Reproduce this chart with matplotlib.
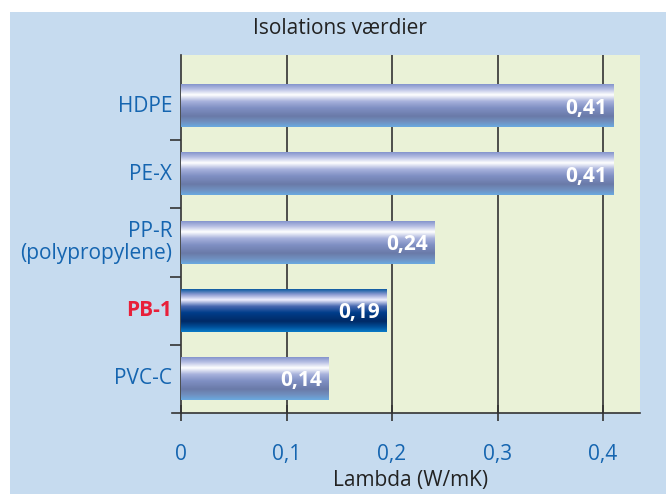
import numpy as np
import matplotlib
matplotlib.use("Agg")
import matplotlib.pyplot as plt
from matplotlib.colors import LinearSegmentedColormap
from matplotlib.patches import Rectangle

# data
materials = ["HDPE", "PE-X", "PP-R\n(polypropylene)", "PB-1", "PVC-C"]
lambda_vals = [0.41, 0.41, 0.24, 0.195, 0.14]   # bar lengths as drawn
value_labels = ["0,41", "0,41", "0,24", "0,19", "0,14"]
highlight = "PB-1"
xticks = [0, 0.1, 0.2, 0.3, 0.4]
xtick_labels = ["0", "0,1", "0,2", "0,3", "0,4"]

BG_BLUE = "#C6DBEF"
PLOT_GREEN = "#EAF2D7"
LABEL_BLUE = "#1565B0"
RED = "#E8203A"
FS = 15

plt.rcParams["font.family"] = ["Open Sans", "DejaVu Sans"]

light_cmap = LinearSegmentedColormap.from_list("light", [
    (0.0, "#8494CC"), (0.12, "#B8C0E4"), (0.25, "#FFFFFF"), (0.4, "#A8B2DC"),
    (0.55, "#8090C4"), (0.75, "#6A7AA8"), (0.88, "#7090C0"), (1.0, "#6AAAE0")])
dark_cmap = LinearSegmentedColormap.from_list("dark", [
    (0.0, "#0B5AA0"), (0.12, "#8898D0"), (0.25, "#F0F0FF"), (0.4, "#4868B0"),
    (0.55, "#003D8A"), (0.75, "#002A66"), (0.88, "#004E98"), (1.0, "#0A7CC8")])

fig = plt.figure(figsize=(6.66, 4.94), dpi=100, facecolor="white")
fig.patches.append(Rectangle((10/666, 0), 1, 1 - 12/494, transform=fig.transFigure,
                             facecolor=BG_BLUE, edgecolor="none", zorder=-10))

ax = fig.add_axes([181/666, 1 - 413/494, (640 - 181)/666, (413 - 55)/494])
ax.set_facecolor(PLOT_GREEN)

grad = np.linspace(0, 1, 256).reshape(-1, 1)
h = 0.62
for i, (name, v, lab) in enumerate(zip(materials, lambda_vals, value_labels)):
    cmap = dark_cmap if name == highlight else light_cmap
    ax.imshow(grad, cmap=cmap, aspect="auto", extent=(0, v, i + h/2, i - h/2),
              zorder=3, interpolation="bilinear")
    ax.text(v - 0.006, i + 0.03, lab, color="white",
            fontsize=FS, fontweight="bold", ha="right", va="center", zorder=4)

ax.set_xlim(0, 0.435)
ax.set_ylim(4.5, -0.75)

for x in xticks[1:]:
    ax.axvline(x, color="#333333", lw=1.2, zorder=2)

for s in ["top", "right", "bottom"]:
    ax.spines[s].set_visible(False)
ax.spines["left"].set_color("#333333")
ax.spines["left"].set_linewidth(1.2)
# bottom axis line, extends a bit to the left
ax.plot([-0.0085, 0.435], [4.5, 4.5], color="#333333", lw=1.2, clip_on=False, zorder=5)

ax.set_xticks(xticks)
ax.set_xticklabels(xtick_labels, color=LABEL_BLUE, fontsize=FS)
ax.tick_params(axis="x", direction="inout", length=12, width=1.2, color="#333333", pad=16)

ax.set_yticks([0.5, 1.5, 2.5, 3.5])
ax.set_yticklabels([])
ax.tick_params(axis="y", direction="out", length=8, width=1.2, color="#333333")
for i, name in enumerate(materials):
    is_hl = name == highlight
    ax.text(-0.0085, i, name, ha="right", va="center", fontsize=FS,
            color=RED if is_hl else LABEL_BLUE,
            fontweight="bold" if is_hl else "normal", linespacing=1.05)

ax.set_xlabel("Lambda (W/mK)", fontsize=FS, color="#222222", labelpad=4)
fig.text(340/666, 1 - 28/494, "Isolations værdier", ha="center", va="center",
         fontsize=FS, color="#222222")

fig.savefig("out.png", dpi=100, facecolor="white")
